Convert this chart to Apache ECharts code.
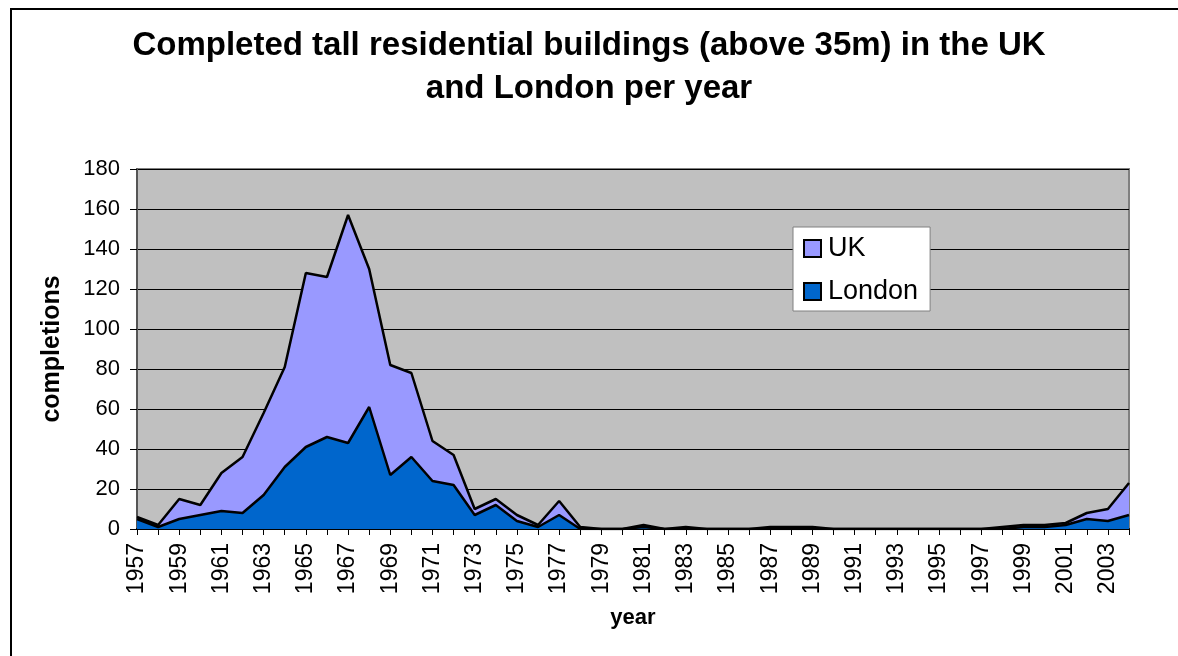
<!DOCTYPE html>
<html>
<head>
<meta charset="utf-8">
<title>Completed tall residential buildings</title>
<script src="https://cdn.jsdelivr.net/npm/echarts@6/dist/echarts.min.js"></script>
<style>
  html, body { margin: 0; padding: 0; background: #fff; overflow: hidden; }
  #frame {
    position: absolute; left: 10px; top: 8px;
    width: 1300px; height: 800px;
    border: 2px solid #000;
  }
  #main { position: absolute; left: 0; top: 0; width: 1178px; height: 656px; }
</style>
</head>
<body>
<div id="frame"></div>
<div id="main"></div>
<script>
// 年份
const years = [
  "1957", "1958", "1959", "1960", "1961", "1962", "1963", "1964", "1965", "1966",
  "1967", "1968", "1969", "1970", "1971", "1972", "1973", "1974", "1975", "1976",
  "1977", "1978", "1979", "1980", "1981", "1982", "1983", "1984", "1985", "1986",
  "1987", "1988", "1989", "1990", "1991", "1992", "1993", "1994", "1995", "1996",
  "1997", "1998", "1999", "2000", "2001", "2002", "2003", "2004",
];
// UK total completions
const ukValues = [
  6, 2, 15, 12, 28, 36, 58, 81, 128, 126,
  157, 130, 82, 78, 44, 37, 10, 15, 7, 2,
  14, 1, 0, 0, 2, 0, 1, 0, 0, 0,
  1, 1, 1, 0, 0, 0, 0, 0, 0, 0,
  0, 1, 2, 2, 3, 8, 10, 23,
];
// London completions
const londonValues = [
  5, 1, 5, 7, 9, 8, 17, 31, 41, 46,
  43, 61, 27, 36, 24, 22, 7, 12, 4, 1,
  7, 0, 0, 0, 1, 0, 0, 0, 0, 0,
  0, 0, 0, 0, 0, 0, 0, 0, 0, 0,
  0, 0, 1, 1, 2, 5, 4, 7,
];
const yTicks = { min: 0, max: 180, step: 20 };

const Chart = echarts.init(document.getElementById("main"));
const font = "Liberation Sans, Arial, sans-serif";

const options = {
  animation: false,
  textStyle: { fontFamily: font },
  title: {
    text: "Completed tall residential buildings (above 35m) in the UK\nand London per year",
    left: "center",
    top: 19,
    textStyle: {
      fontFamily: font,
      fontSize: 33,
      fontWeight: "bold",
      color: "#000",
      lineHeight: 43,
    },
  },
  legend: {
    orient: "vertical",
    left: 793,
    top: 227,
    padding: [8, 12, 6, 10],
    itemGap: 16,
    itemWidth: 17,
    itemHeight: 17,
    icon: "rect",
    backgroundColor: "#fff",
    borderColor: "#808080",
    borderWidth: 1,
    borderRadius: 0,
    itemStyle: { borderColor: "#000", borderWidth: 2 },
    textStyle: { fontFamily: font, fontSize: 27, color: "#000", padding: [0, 0, 0, 2] },
    data: ["UK", "London"],
  },
  grid: {
    left: 137,
    right: 49,
    top: 169,
    bottom: 127,
    show: true,
    backgroundColor: "#C0C0C0",
    borderColor: "#808080",
    borderWidth: 2,
  },
  xAxis: {
    type: "category",
    data: years,
    boundaryGap: false,
    name: "year",
    nameLocation: "middle",
    nameGap: 78,
    nameTextStyle: { fontFamily: font, fontSize: 22, fontWeight: "bold", color: "#000" },
    axisLine: { lineStyle: { color: "#000", width: 2 } },
    axisTick: { interval: 0, length: 6, lineStyle: { color: "#000" } },
    axisLabel: {
      interval: 1,
      rotate: 90,
      margin: 14,
      fontSize: 23,
      color: "#000",
      fontFamily: font,
    },
    splitLine: { show: false },
  },
  yAxis: {
    type: "value",
    min: yTicks.min,
    max: yTicks.max,
    interval: yTicks.step,
    name: "completions",
    nameLocation: "middle",
    nameGap: 72,
    nameTextStyle: { fontFamily: font, fontSize: 25, fontWeight: "bold", color: "#000" },
    axisLine: { show: true, lineStyle: { color: "#555", width: 2 } },
    axisTick: { show: true, length: 7, lineStyle: { color: "#000" } },
    axisLabel: { fontSize: 22, color: "#000", margin: 17, fontFamily: font },
    splitLine: { lineStyle: { color: "#000", width: 1 } },
  },
  series: [
    {
      name: "UK",
      type: "line",
      data: ukValues,
      symbol: "none",
      itemStyle: { color: "#9999FF" },
      lineStyle: { color: "#000", width: 2.5 },
      areaStyle: { color: "#9999FF", opacity: 1 },
    },
    {
      name: "London",
      type: "line",
      data: londonValues,
      symbol: "none",
      itemStyle: { color: "#0066CC" },
      lineStyle: { color: "#000", width: 2.5 },
      areaStyle: { color: "#0066CC", opacity: 1 },
    },
  ],
};

Chart.setOption(options);
</script>
</body>
</html>
